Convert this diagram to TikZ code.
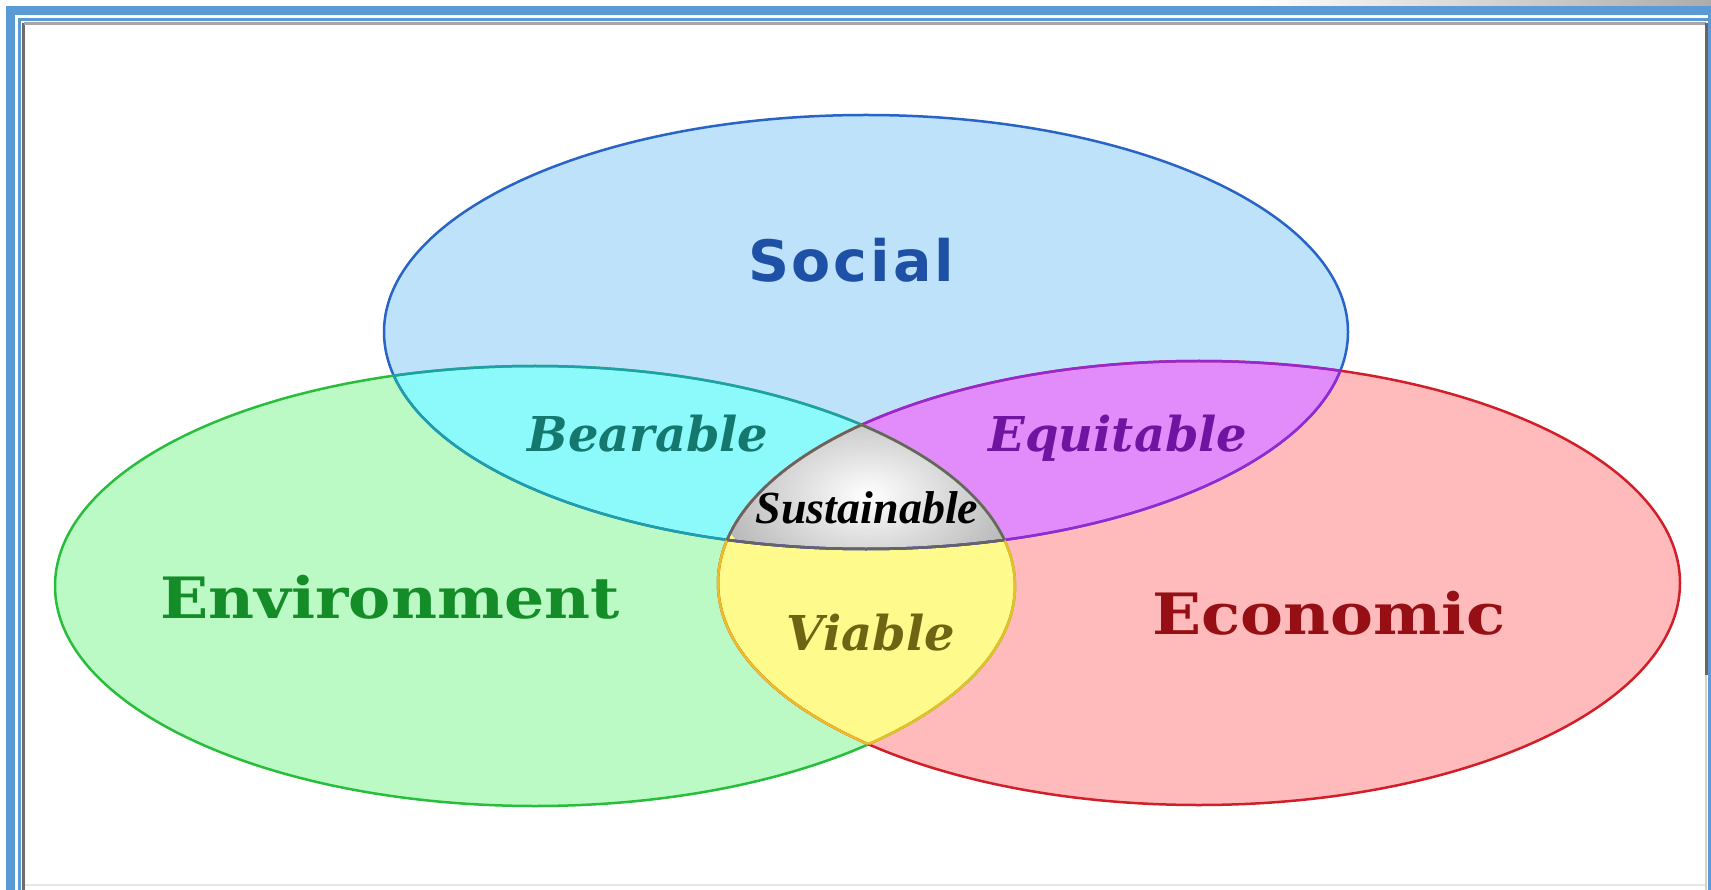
\documentclass[tikz,border=0pt]{standalone}
\usepackage{fontspec}
\newfontfamily\dvserif{DejaVu Serif}
\newfontfamily\dvsans{DejaVu Sans}[LetterSpace=5]
\newfontfamily\lbserif{Liberation Serif}
\definecolor{frameblue}{RGB}{91,155,213}
\definecolor{socfill}{RGB}{189,226,250}
\definecolor{socline}{RGB}{40,100,200}
\definecolor{envfill}{RGB}{187,250,196}
\definecolor{envline}{RGB}{40,190,60}
\definecolor{ecofill}{RGB}{255,187,187}
\definecolor{ecoline}{RGB}{210,30,40}
\definecolor{cyanfill}{RGB}{140,250,250}
\definecolor{tealline}{RGB}{30,160,170}
\definecolor{violfill}{RGB}{225,140,250}
\definecolor{purpline}{RGB}{150,40,210}
\definecolor{yellfill}{RGB}{255,250,140}
\definecolor{yellline}{RGB}{235,190,40}
\definecolor{grayline}{RGB}{100,100,100}
\definecolor{soctext}{RGB}{30,80,165}
\definecolor{beartext}{RGB}{20,120,110}
\definecolor{equitext}{RGB}{110,20,160}
\definecolor{envtext}{RGB}{20,140,40}
\definecolor{ecotext}{RGB}{150,15,20}
\definecolor{viatext}{RGB}{110,100,20}
\tikzset{
  outline/.style={line width=2.5pt},
  biglabel/.style={anchor=base, inner sep=0pt},
}
\def\soc{(866,332) ellipse [x radius=482, y radius=217]}
\def\env{(535,586) ellipse [x radius=480, y radius=220]}
\def\eco{(1199,583) ellipse [x radius=481, y radius=222]}
\begin{document}
\begin{tikzpicture}[x=1pt,y=-1pt]
\useasboundingbox (0,0) rectangle (1711,890);
\fill[white] (0,0) rectangle (1711,890);
% frame
\shade[left color=white, right color=gray!65] (1250,0) rectangle (1711,6);
\fill[frameblue] (6,6) rectangle (1711,15);
\fill[frameblue] (6,6) rectangle (15,890);
\fill[frameblue] (1708,15) rectangle (1711,890);
\draw[frameblue, line width=3pt] (19.5,890) -- (19.5,19.5) -- (1711,19.5);
\draw[gray!85!black, line width=3pt] (23.5,890) -- (23.5,23.5);
\draw[gray!70, line width=3pt] (23.5,23.5) -- (1706,23.5);
\draw[gray!80!black, line width=3pt] (1706,23.5) -- (1706,675);
\draw[gray!35, line width=2pt] (1706,675) -- (1706,890);
\draw[gray!20, line width=2pt] (25,885) -- (1705,885);
% base fills
\fill[socfill] \soc;
\fill[envfill] \env;
\fill[ecofill] \eco;
% pairwise intersections
\begin{scope}\clip \soc; \fill[cyanfill] \env; \end{scope}
\begin{scope}\clip \soc; \fill[violfill] \eco; \end{scope}
\begin{scope}\clip \env; \fill[yellfill] \eco; \end{scope}
\begin{scope}\clip \soc; \clip \env; \clip \eco;
  \shade[inner color=white, outer color=gray!55] (868,495) ellipse [x radius=150, y radius=95];
\end{scope}
% outlines
\draw[outline, socline] \soc;
\draw[outline, envline] \env;
\draw[outline, ecoline] \eco;
\begin{scope}\clip \env; \draw[outline, tealline] \soc; \end{scope}
\begin{scope}\clip \soc; \draw[outline, tealline] \env; \end{scope}
\begin{scope}\clip \eco; \draw[outline, purpline] \soc; \end{scope}
\begin{scope}\clip \soc; \draw[outline, purpline] \eco; \end{scope}
\begin{scope}\clip \eco; \draw[outline, yellline] \env; \end{scope}
\begin{scope}\clip \env; \draw[outline, yellline] \eco; \end{scope}
\begin{scope}\clip \env; \clip \eco; \draw[outline, grayline] \soc; \end{scope}
\begin{scope}\clip \soc; \clip \eco; \draw[outline, grayline] \env; \end{scope}
\begin{scope}\clip \soc; \clip \env; \draw[outline, grayline] \eco; \end{scope}
% labels
\node[biglabel, text=soctext, font=\dvsans\bfseries\fontsize{57}{60}\selectfont] (social) at (851,282) {Social};
\node[biglabel, text=envtext, font=\dvserif\bfseries\fontsize{57}{60}\selectfont] (environment) at (390,618) {\scalebox{1.11}[1]{Environment}};
\node[biglabel, text=ecotext, font=\dvserif\bfseries\fontsize{57}{60}\selectfont] (economic) at (1329,634) {\scalebox{1.13}[1]{Economic}};
\node[biglabel, text=beartext, font=\dvserif\bfseries\itshape\fontsize{48}{50}\selectfont] (bearable) at (648,451) {Bearable};
\node[biglabel, text=equitext, font=\dvserif\bfseries\itshape\fontsize{48}{50}\selectfont] (equitable) at (1118,451) {Equitable};
\node[biglabel, text=viatext, font=\dvserif\bfseries\itshape\fontsize{48}{50}\selectfont] (viable) at (871,650) {Viable};
\node[biglabel, text=black, font=\lbserif\bfseries\itshape\fontsize{46}{48}\selectfont] (sustainable) at (867,523) {Sustainable};
\end{tikzpicture}
\end{document}
